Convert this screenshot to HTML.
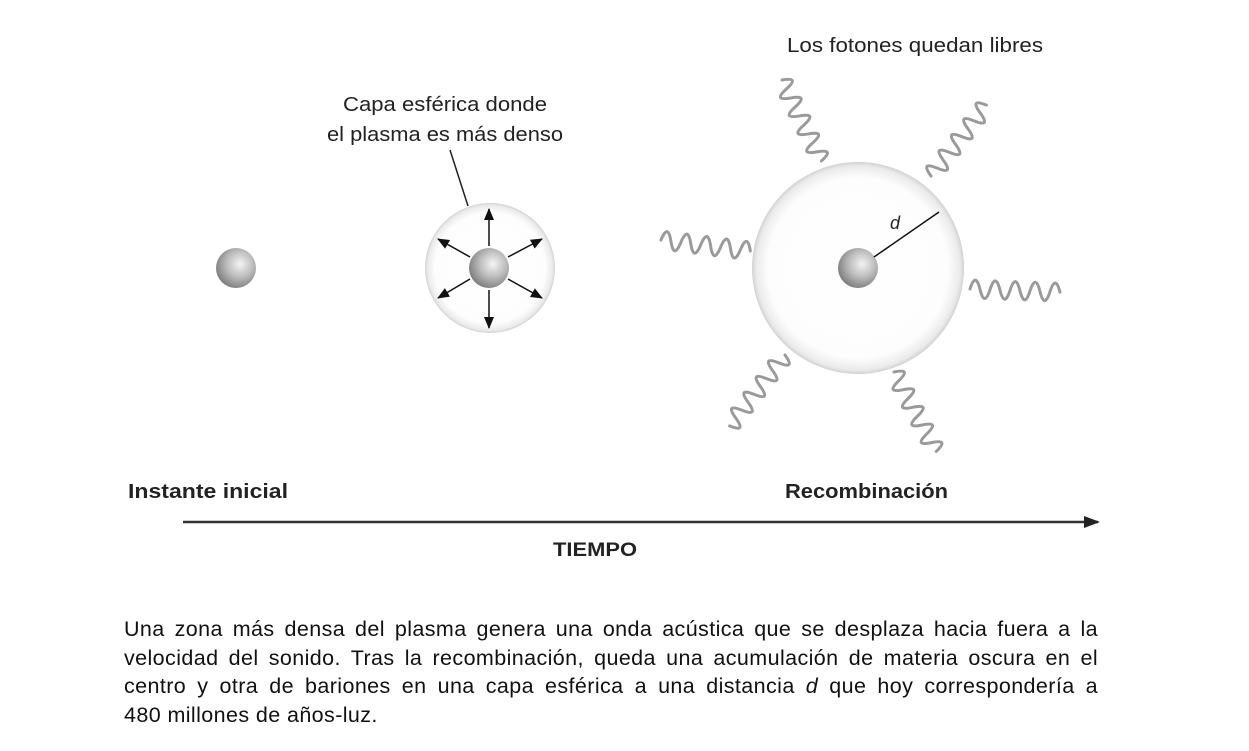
<!DOCTYPE html>
<html><head><meta charset="utf-8"><style>
html,body{margin:0;padding:0;background:#fff;width:1249px;height:751px;overflow:hidden}
.cap{position:absolute;left:124px;top:615px;width:974px;font-family:"Liberation Sans",sans-serif;font-size:21.5px;letter-spacing:0.4px;line-height:28.5px;color:#111}
.cap div{text-align:justify;text-align-last:justify;white-space:nowrap}
.cap div.l{text-align-last:left}
</style></head><body>
<svg width="1249" height="751" style="position:absolute;left:0;top:0" xmlns="http://www.w3.org/2000/svg">
<defs>
<radialGradient id="sph" cx="0.6" cy="0.4" r="0.65">
<stop offset="0" stop-color="#f4f4f4"/><stop offset="0.5" stop-color="#bdbdbd"/><stop offset="1" stop-color="#7a7a7a"/></radialGradient>
<radialGradient id="shell" cx="0.5" cy="0.5" r="0.5">
<stop offset="0" stop-color="#fff"/><stop offset="0.85" stop-color="#fdfdfd"/><stop offset="0.96" stop-color="#ebebeb"/><stop offset="1" stop-color="#d2d2d2"/></radialGradient>
<marker id="ah" markerWidth="12" markerHeight="10" refX="11" refY="5" orient="auto" markerUnits="userSpaceOnUse"><path d="M0,0 L12,5 L0,10 z" fill="#111"/></marker>
<marker id="ah2" markerWidth="16" markerHeight="12" refX="14" refY="6" orient="auto" markerUnits="userSpaceOnUse"><path d="M0,0 L16,6 L0,12 z" fill="#222"/></marker>
<path id="wave" d="M0,0 q5,-18 10,0 t10,0 t10,0 t10,0 t10,0 t10,0 t10,0 t10,0 t10,0" fill="none" stroke="#9a9a9a" stroke-width="3" stroke-linecap="round"/>
</defs>
<line x1="183" y1="522" x2="1098" y2="522" stroke="#333" stroke-width="2.5" marker-end="url(#ah2)"/>
<line x1="450" y1="150" x2="468" y2="206" stroke="#222" stroke-width="1.5"/>
<circle cx="236" cy="268" r="20" fill="url(#sph)"/>
<circle cx="490" cy="268" r="65" fill="url(#shell)"/>
<circle cx="489" cy="268" r="20" fill="url(#sph)"/>
<g stroke="#111" stroke-width="1.5">
<line x1="489" y1="246" x2="489" y2="209" marker-end="url(#ah)"/>
<line x1="489" y1="290" x2="489" y2="328" marker-end="url(#ah)"/>
<line x1="470" y1="257" x2="438" y2="239" marker-end="url(#ah)"/>
<line x1="508" y1="257" x2="542" y2="239" marker-end="url(#ah)"/>
<line x1="470" y1="279" x2="438" y2="298" marker-end="url(#ah)"/>
<line x1="508" y1="279" x2="542" y2="298" marker-end="url(#ah)"/>
</g>
<circle cx="858" cy="268" r="106" fill="url(#shell)"/>
<circle cx="858" cy="268" r="20" fill="url(#sph)"/>
<line x1="874" y1="257" x2="939" y2="212" stroke="#111" stroke-width="1.5"/>
<use href="#wave" transform="translate(782,80) rotate(64)"/>
<use href="#wave" transform="translate(931,176) rotate(-52)"/>
<use href="#wave" transform="translate(661,240) rotate(7)"/>
<use href="#wave" transform="translate(970,289) rotate(2)"/>
<use href="#wave" transform="translate(785,355) rotate(128)"/>
<use href="#wave" transform="translate(894,372) rotate(62)"/>
<g font-family="Liberation Sans, sans-serif" fill="#222">
<text x="915" y="52" font-size="20" text-anchor="middle" textLength="256" lengthAdjust="spacingAndGlyphs">Los fotones quedan libres</text>
<text x="445" y="111" font-size="20" text-anchor="middle" textLength="204" lengthAdjust="spacingAndGlyphs">Capa esférica donde</text>
<text x="445" y="141" font-size="20" text-anchor="middle" textLength="236" lengthAdjust="spacingAndGlyphs">el plasma es más denso</text>
<text x="128" y="498" font-size="20" font-weight="bold" textLength="160" lengthAdjust="spacingAndGlyphs">Instante inicial</text>
<text x="785" y="498" font-size="20" font-weight="bold" textLength="163" lengthAdjust="spacingAndGlyphs">Recombinación</text>
<text x="553" y="556" font-size="19" font-weight="bold" textLength="84" lengthAdjust="spacingAndGlyphs">TIEMPO</text>
<text x="890" y="229" font-size="18" font-style="italic">d</text>
</g>
</svg>
<div class="cap">
<div>Una zona más densa del plasma genera una onda acústica que se desplaza hacia fuera a la</div>
<div>velocidad del sonido. Tras la recombinación, queda una acumulación de materia oscura en el</div>
<div>centro y otra de bariones en una capa esférica a una distancia <i>d</i> que hoy correspondería a</div>
<div class="l">480 millones de años-luz.</div>
</div>
</body></html>
